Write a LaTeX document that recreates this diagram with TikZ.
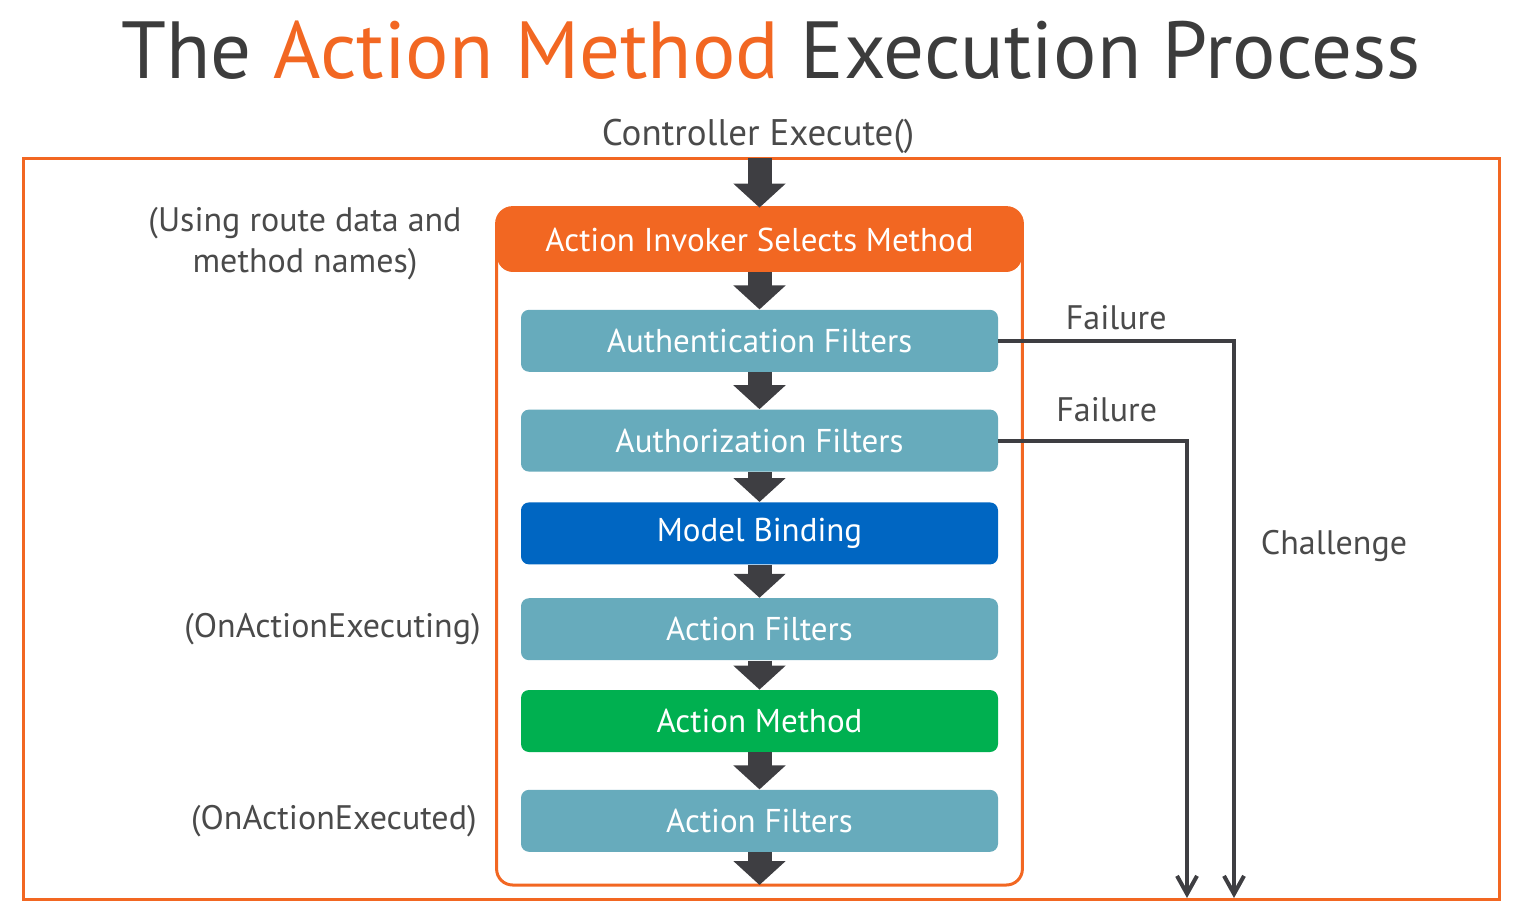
\documentclass[tikz,border=0pt]{standalone}
\usepackage{fontspec}
\setmainfont{PT Sans}
\usetikzlibrary{arrows.meta, positioning}
\definecolor{actorange}{HTML}{F26722}
\definecolor{filterteal}{HTML}{67ABBC}
\definecolor{bindblue}{HTML}{0066C2}
\definecolor{methodgreen}{HTML}{00B050}
\definecolor{arrowgray}{HTML}{3E3E42}
\definecolor{titlegray}{HTML}{3C3C3C}
\definecolor{notegray}{HTML}{4A4A4A}
\tikzset{
box/.style={rounded corners=4pt, minimum width=238.5pt, minimum height=31pt, inner sep=0pt, text=white, font=\fontsize{16.5}{18}\selectfont}, % every coloured step
filterbox/.style={box, fill=filterteal},
flow/.style={-{Triangle[width=25.5pt,length=12pt]}, line width=12pt, draw=arrowgray}, % the thick arrows
fail/.style={-{Straight Barb[length=9pt,width=10pt]}, line width=2pt, draw=arrowgray},
note/.style={text=notegray, font=\fontsize{17}{20.5}\selectfont, align=center},
}

\begin{document}
\begin{tikzpicture}[x=0.5pt,y=-0.5pt]%pixel coordinates, y downwards
  \useasboundingbox (0,0) rectangle (1521,909);
  \node[font=\fontsize{40.5}{44}\selectfont, text=titlegray] (title) at (771,50) {The \textcolor{actorange}{Action Method} Execution Process};
  \node[note, font=\fontsize{18.5}{22}\selectfont] (ctrl) at (758,136) {Controller Execute()};
  \draw[actorange, line width=1.5pt] (23,159) rectangle (1499,899);

  \coordinate (entry) at (759.5,158);
  \coordinate (bot) at (759.5,885);
  \coordinate (exit1) at (1234,898);
  \coordinate (exit2) at (1187,898);

  \node[box, fill=actorange, minimum width=262.5pt, minimum height=32pt, rounded corners=8pt] (sel) at (759.5,240) {Action Invoker Selects Method};
  \node[filterbox, below=18.5pt of sel] (authn) {Authentication Filters};
  \node[filterbox, below=18.5pt of authn] (authz) {Authorization Filters};
  \node[box, fill=bindblue, below=15pt of authz] (bind) {Model Binding};
  \node[filterbox, below=16.5pt of bind] (before) {Action Filters};
  \node[box, fill=methodgreen, below=14.5pt of before] (method) {Action Method};
  \node[filterbox, below=18.5pt of method] (after) {Action Filters};
  % \node[box, fill=actorange, below=of after] (result) {Result};
  \draw[actorange, line width=1.5pt, rounded corners=8pt] (sel.north west) rectangle (sel.east |- bot);

  \node[note, left=14pt of sel, yshift=-2pt] (routes) {(Using route data and\\method names)};
  \node[note, left=16.5pt of before] (executing) {(OnActionExecuting)};
  \node[note, left=18.5pt of after] (executed) {(OnActionExecuted)};

  \draw[flow] (entry) -- (sel);
  \draw[flow] (sel) -- (authn);
  \draw[flow] (authn) -- (authz);
  \draw[flow] (authz) -- (bind);
  \draw[flow] (bind) -- (before);
  \draw[flow] (before) -- (method);
  \draw[flow] (method) -- (after);
  \draw[flow] (after) -- (bot);

  \draw[fail] (authn.east) -| node[note, pos=0.25, above=1pt]{Failure} (exit1);
  \draw[fail] (authz.east) -| node[note, pos=0.25, above=5pt, xshift=7pt]{Failure} (exit2);
  \node[note] (challenge) at (1334,546) {Challenge};
\end{tikzpicture}
\end{document}
